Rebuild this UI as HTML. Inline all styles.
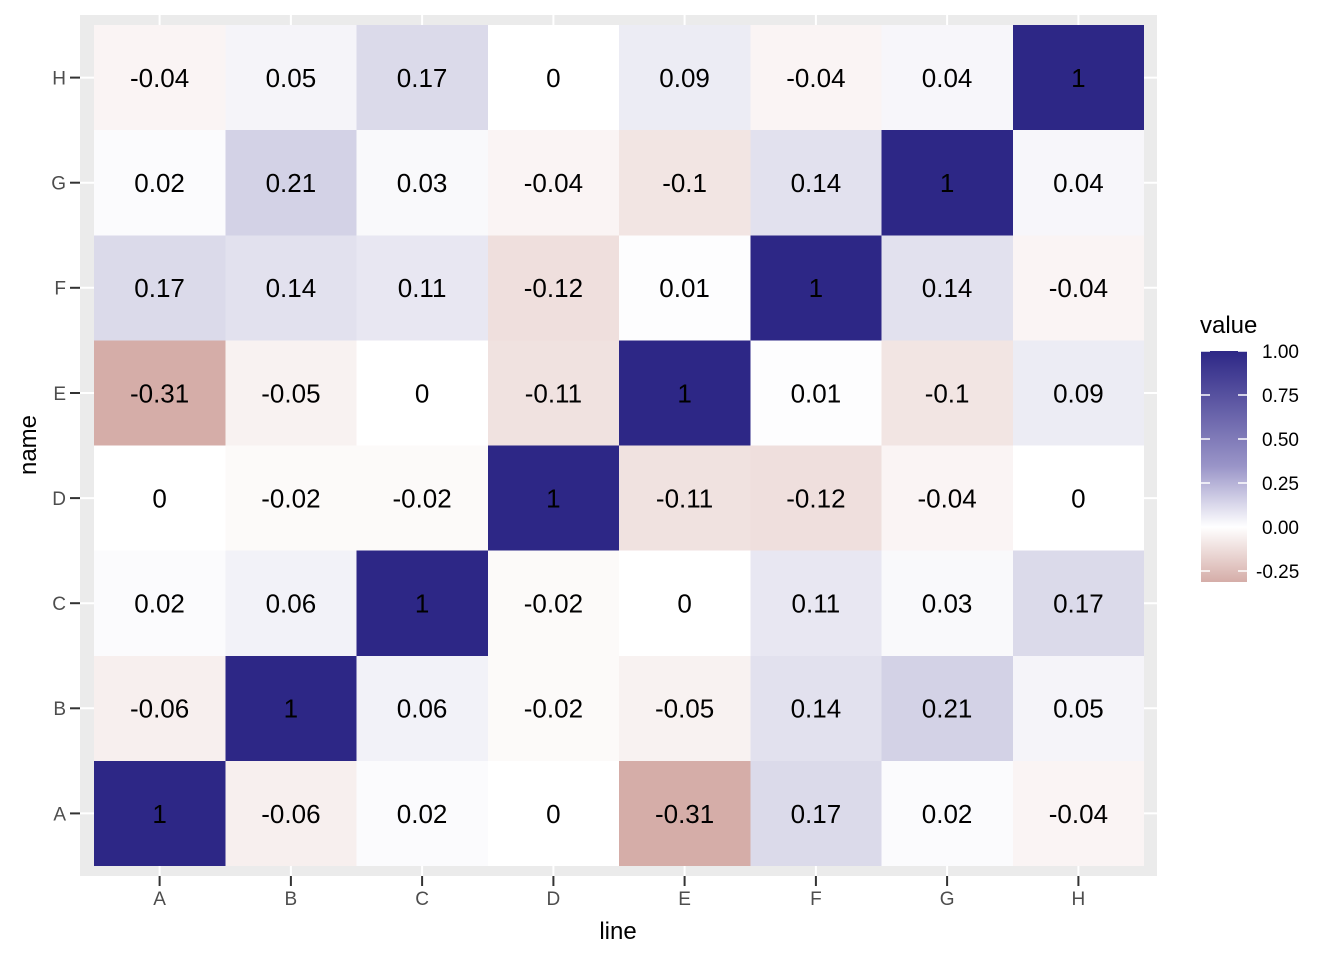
<!DOCTYPE html>
<html><head><meta charset="utf-8"><style>body{margin:0;background:#fff}svg{display:block}</style></head><body>
<svg width="1344" height="960" xmlns="http://www.w3.org/2000/svg" font-family="Liberation Sans, sans-serif">
<defs><linearGradient id="lg" x1="0" y1="0" x2="0" y2="1">
<stop offset="0" stop-color="#2D2786"/><stop offset="0.5" stop-color="#9A95C8"/><stop offset="0.762" stop-color="#FFFFFF"/><stop offset="1" stop-color="#D5ADA8"/>
</linearGradient></defs>
<rect x="80" y="15" width="1077" height="861" fill="#EBEBEB"/>
<g stroke="#fff" stroke-width="2">
<line x1="159.6" y1="15" x2="159.6" y2="876"/><line x1="290.9" y1="15" x2="290.9" y2="876"/><line x1="422.1" y1="15" x2="422.1" y2="876"/><line x1="553.4" y1="15" x2="553.4" y2="876"/><line x1="684.6" y1="15" x2="684.6" y2="876"/><line x1="815.9" y1="15" x2="815.9" y2="876"/><line x1="947.1" y1="15" x2="947.1" y2="876"/><line x1="1078.4" y1="15" x2="1078.4" y2="876"/>
<line x1="80" y1="77.6" x2="1157" y2="77.6"/><line x1="80" y1="182.7" x2="1157" y2="182.7"/><line x1="80" y1="287.8" x2="1157" y2="287.8"/><line x1="80" y1="393" x2="1157" y2="393"/><line x1="80" y1="498.1" x2="1157" y2="498.1"/><line x1="80" y1="603.2" x2="1157" y2="603.2"/><line x1="80" y1="708.3" x2="1157" y2="708.3"/><line x1="80" y1="813.4" x2="1157" y2="813.4"/>
</g>
<g shape-rendering="crispEdges">
<!-- H -->
<rect x="94" y="25" width="132" height="106" fill="#FAF4F4"/><rect x="225.25" y="25" width="132" height="106" fill="#F5F4F9"/><rect x="356.5" y="25" width="132" height="106" fill="#DBDAEA"/><rect x="487.75" y="25" width="132" height="106" fill="#FFFFFF"/><rect x="619" y="25" width="132" height="106" fill="#ECECF4"/><rect x="750.25" y="25" width="132" height="106" fill="#FAF4F4"/><rect x="881.5" y="25" width="132" height="106" fill="#F7F6FA"/><rect x="1012.75" y="25" width="131.25" height="106" fill="#2D2786"/>
<!-- G -->
<rect x="94" y="130.1" width="132" height="106" fill="#FBFBFD"/><rect x="225.25" y="130.1" width="132" height="106" fill="#D3D2E6"/><rect x="356.5" y="130.1" width="132" height="106" fill="#F9F9FB"/><rect x="487.75" y="130.1" width="132" height="106" fill="#FAF4F4"/><rect x="619" y="130.1" width="132" height="106" fill="#F2E5E3"/><rect x="750.25" y="130.1" width="132" height="106" fill="#E2E1EE"/><rect x="881.5" y="130.1" width="132" height="106" fill="#2D2786"/><rect x="1012.75" y="130.1" width="131.25" height="106" fill="#F7F6FA"/>
<!-- F -->
<rect x="94" y="235.25" width="132" height="106" fill="#DBDAEA"/><rect x="225.25" y="235.25" width="132" height="106" fill="#E2E1EE"/><rect x="356.5" y="235.25" width="132" height="106" fill="#E8E7F2"/><rect x="487.75" y="235.25" width="132" height="106" fill="#EFDFDD"/><rect x="619" y="235.25" width="132" height="106" fill="#FDFDFE"/><rect x="750.25" y="235.25" width="132" height="106" fill="#2D2786"/><rect x="881.5" y="235.25" width="132" height="106" fill="#E2E1EE"/><rect x="1012.75" y="235.25" width="131.25" height="106" fill="#FAF4F4"/>
<!-- E -->
<rect x="94" y="340.4" width="132" height="106" fill="#D5ADA8"/><rect x="225.25" y="340.4" width="132" height="106" fill="#F8F2F1"/><rect x="356.5" y="340.4" width="132" height="106" fill="#FFFFFF"/><rect x="487.75" y="340.4" width="132" height="106" fill="#F0E2E0"/><rect x="619" y="340.4" width="132" height="106" fill="#2D2786"/><rect x="750.25" y="340.4" width="132" height="106" fill="#FDFDFE"/><rect x="881.5" y="340.4" width="132" height="106" fill="#F2E5E3"/><rect x="1012.75" y="340.4" width="131.25" height="106" fill="#ECECF4"/>
<!-- D -->
<rect x="94" y="445.5" width="132" height="106" fill="#FFFFFF"/><rect x="225.25" y="445.5" width="132" height="106" fill="#FCFAF9"/><rect x="356.5" y="445.5" width="132" height="106" fill="#FCFAF9"/><rect x="487.75" y="445.5" width="132" height="106" fill="#2D2786"/><rect x="619" y="445.5" width="132" height="106" fill="#F0E2E0"/><rect x="750.25" y="445.5" width="132" height="106" fill="#EFDFDD"/><rect x="881.5" y="445.5" width="132" height="106" fill="#FAF4F4"/><rect x="1012.75" y="445.5" width="131.25" height="106" fill="#FFFFFF"/>
<!-- C -->
<rect x="94" y="550.6" width="132" height="106" fill="#FBFBFD"/><rect x="225.25" y="550.6" width="132" height="106" fill="#F2F2F8"/><rect x="356.5" y="550.6" width="132" height="106" fill="#2D2786"/><rect x="487.75" y="550.6" width="132" height="106" fill="#FCFAF9"/><rect x="619" y="550.6" width="132" height="106" fill="#FFFFFF"/><rect x="750.25" y="550.6" width="132" height="106" fill="#E8E7F2"/><rect x="881.5" y="550.6" width="132" height="106" fill="#F9F9FB"/><rect x="1012.75" y="550.6" width="131.25" height="106" fill="#DBDAEA"/>
<!-- B -->
<rect x="94" y="655.75" width="132" height="106" fill="#F7EFEE"/><rect x="225.25" y="655.75" width="132" height="106" fill="#2D2786"/><rect x="356.5" y="655.75" width="132" height="106" fill="#F2F2F8"/><rect x="487.75" y="655.75" width="132" height="106" fill="#FCFAF9"/><rect x="619" y="655.75" width="132" height="106" fill="#F8F2F1"/><rect x="750.25" y="655.75" width="132" height="106" fill="#E2E1EE"/><rect x="881.5" y="655.75" width="132" height="106" fill="#D3D2E6"/><rect x="1012.75" y="655.75" width="131.25" height="106" fill="#F5F4F9"/>
<!-- A -->
<rect x="94" y="760.9" width="132" height="105.1" fill="#2D2786"/><rect x="225.25" y="760.9" width="132" height="105.1" fill="#F7EFEE"/><rect x="356.5" y="760.9" width="132" height="105.1" fill="#FBFBFD"/><rect x="487.75" y="760.9" width="132" height="105.1" fill="#FFFFFF"/><rect x="619" y="760.9" width="132" height="105.1" fill="#D5ADA8"/><rect x="750.25" y="760.9" width="132" height="105.1" fill="#DBDAEA"/><rect x="881.5" y="760.9" width="132" height="105.1" fill="#FBFBFD"/><rect x="1012.75" y="760.9" width="131.25" height="105.1" fill="#FAF4F4"/>
</g>
<g font-size="26" text-anchor="middle" fill="#000">
<g transform="translate(0,87)"><text x="159.6">-0.04</text><text x="290.9">0.05</text><text x="422.1">0.17</text><text x="553.4">0</text><text x="684.6">0.09</text><text x="815.9">-0.04</text><text x="947.1">0.04</text><text x="1078.4">1</text></g>
<g transform="translate(0,192.1)"><text x="159.6">0.02</text><text x="290.9">0.21</text><text x="422.1">0.03</text><text x="553.4">-0.04</text><text x="684.6">-0.1</text><text x="815.9">0.14</text><text x="947.1">1</text><text x="1078.4">0.04</text></g>
<g transform="translate(0,297.2)"><text x="159.6">0.17</text><text x="290.9">0.14</text><text x="422.1">0.11</text><text x="553.4">-0.12</text><text x="684.6">0.01</text><text x="815.9">1</text><text x="947.1">0.14</text><text x="1078.4">-0.04</text></g>
<g transform="translate(0,402.4)"><text x="159.6">-0.31</text><text x="290.9">-0.05</text><text x="422.1">0</text><text x="553.4">-0.11</text><text x="684.6">1</text><text x="815.9">0.01</text><text x="947.1">-0.1</text><text x="1078.4">0.09</text></g>
<g transform="translate(0,507.5)"><text x="159.6">0</text><text x="290.9">-0.02</text><text x="422.1">-0.02</text><text x="553.4">1</text><text x="684.6">-0.11</text><text x="815.9">-0.12</text><text x="947.1">-0.04</text><text x="1078.4">0</text></g>
<g transform="translate(0,612.6)"><text x="159.6">0.02</text><text x="290.9">0.06</text><text x="422.1">1</text><text x="553.4">-0.02</text><text x="684.6">0</text><text x="815.9">0.11</text><text x="947.1">0.03</text><text x="1078.4">0.17</text></g>
<g transform="translate(0,717.7)"><text x="159.6">-0.06</text><text x="290.9">1</text><text x="422.1">0.06</text><text x="553.4">-0.02</text><text x="684.6">-0.05</text><text x="815.9">0.14</text><text x="947.1">0.21</text><text x="1078.4">0.05</text></g>
<g transform="translate(0,822.8)"><text x="159.6">1</text><text x="290.9">-0.06</text><text x="422.1">0.02</text><text x="553.4">0</text><text x="684.6">-0.31</text><text x="815.9">0.17</text><text x="947.1">0.02</text><text x="1078.4">-0.04</text></g>
</g>
<g stroke="#333" stroke-width="2">
<line x1="70" y1="77.6" x2="80" y2="77.6"/><line x1="70" y1="182.7" x2="80" y2="182.7"/><line x1="70" y1="287.8" x2="80" y2="287.8"/><line x1="70" y1="393" x2="80" y2="393"/><line x1="70" y1="498.1" x2="80" y2="498.1"/><line x1="70" y1="603.2" x2="80" y2="603.2"/><line x1="70" y1="708.3" x2="80" y2="708.3"/><line x1="70" y1="813.4" x2="80" y2="813.4"/>
<line x1="159.6" y1="876" x2="159.6" y2="886"/><line x1="290.9" y1="876" x2="290.9" y2="886"/><line x1="422.1" y1="876" x2="422.1" y2="886"/><line x1="553.4" y1="876" x2="553.4" y2="886"/><line x1="684.6" y1="876" x2="684.6" y2="886"/><line x1="815.9" y1="876" x2="815.9" y2="886"/><line x1="947.1" y1="876" x2="947.1" y2="886"/><line x1="1078.4" y1="876" x2="1078.4" y2="886"/>
</g>
<g font-size="19" fill="#4D4D4D" text-anchor="end">
<text x="66" y="84.5">H</text><text x="66" y="189.6">G</text><text x="66" y="294.7">F</text><text x="66" y="399.9">E</text><text x="66" y="505">D</text><text x="66" y="610.1">C</text><text x="66" y="715.2">B</text><text x="66" y="820.3">A</text>
</g>
<g font-size="19" fill="#4D4D4D" text-anchor="middle">
<text x="159.6" y="905">A</text><text x="290.9" y="905">B</text><text x="422.1" y="905">C</text><text x="553.4" y="905">D</text><text x="684.6" y="905">E</text><text x="815.9" y="905">F</text><text x="947.1" y="905">G</text><text x="1078.4" y="905">H</text>
</g>
<text x="618" y="939" font-size="24" text-anchor="middle">line</text>
<text transform="translate(36,445) rotate(-90)" font-size="24" text-anchor="middle">name</text>
<text x="1200" y="333" font-size="24">value</text>
<rect x="1201" y="351" width="46" height="231" fill="url(#lg)"/>
<g stroke="#fff" stroke-width="1.5">
<line x1="1201" y1="351" x2="1210" y2="351"/><line x1="1238" y1="351" x2="1247" y2="351"/>
<line x1="1201" y1="395" x2="1210" y2="395"/><line x1="1238" y1="395" x2="1247" y2="395"/>
<line x1="1201" y1="439" x2="1210" y2="439"/><line x1="1238" y1="439" x2="1247" y2="439"/>
<line x1="1201" y1="483" x2="1210" y2="483"/><line x1="1238" y1="483" x2="1247" y2="483"/>
<line x1="1201" y1="527" x2="1210" y2="527"/><line x1="1238" y1="527" x2="1247" y2="527"/>
<line x1="1201" y1="571" x2="1210" y2="571"/><line x1="1238" y1="571" x2="1247" y2="571"/>
</g>
<g font-size="19" fill="#000">
<text x="1262" y="358">1.00</text><text x="1262" y="402">0.75</text><text x="1262" y="446">0.50</text><text x="1262" y="490">0.25</text><text x="1262" y="534">0.00</text><text x="1256" y="578">-0.25</text>
</g>
</svg>
</body></html>
